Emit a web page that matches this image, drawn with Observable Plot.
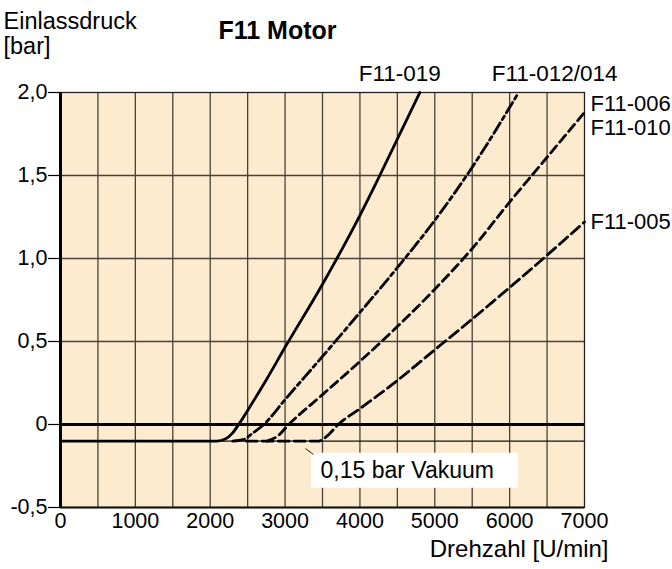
<!DOCTYPE html>
<html><head><meta charset="utf-8">
<script src="https://cdn.jsdelivr.net/npm/d3@7"></script>
<script src="https://cdn.jsdelivr.net/npm/@observablehq/plot@0.6"></script>
<style>body{margin:0;background:#fff} svg{display:block}</style>
</head><body><div id="chart"></div>
<script>
// ---- data ----
const xTicks = [0,1000,2000,3000,4000,5000,6000,7000];
const xGrid = [500,1000,1500,2000,2500,3000,3500,4000,4500,5000,5500,6000,6500];
const yTicks = [-0.5,0,0.5,1,1.5,2];
const yTickLabels = ["-0,5","0","0,5","1,0","1,5","2,0"];
const yGrid = [0.5,1,1.5];
const vacuumLevel = [-0.1];

const rpm019 = [0,2090,2200,2300,2380,2500,2750,3000,3500,4000,4265,4800];
const bar019 = [-0.1,-0.1,-0.088,-0.05,0,0.085,0.27,0.465,0.845,1.26,1.5,2.0];

const rpm012 = [2300,2450,2560,2716,3000,3500,4000,4500,5000,5500,6120];
const bar012 = [-0.1,-0.09,-0.055,0,0.15,0.41,0.675,0.945,1.23,1.55,2.0];

const rpm006 = [2760,2900,3050,3500,4000,4500,5000,5500,6000,6500,7000];
const bar006 = [-0.1,-0.07,0,0.18,0.38,0.59,0.815,1.06,1.34,1.61,1.88];

const rpm005 = [2480,3450,3560,3710,4000,4500,5000,5500,6000,6500,7000];
const bar005 = [-0.1,-0.1,-0.07,0,0.095,0.265,0.45,0.635,0.825,1.02,1.22];

const seriesNames = ["F11-019","F11-012/014","F11-006\nF11-010","F11-005"];
const titleText = "F11 Motor";
const yLabelText = "Einlassdruck\n[bar]";
const xLabelText = "Drehzahl [U/min]";
const vacuumNote = "0,15 bar Vakuum";

// ---- build ----
const tab = (xs, ys) => xs.map((x, i) => ({x, y: ys[i]}));
const s019 = tab(rpm019, bar019);
const s012 = tab(rpm012, bar012);
const s006 = tab(rpm006, bar006);
const s005 = tab(rpm005, bar005);
const last = s => s[s.length - 1];

const grid = "#4b4038";
const font = "Liberation Sans, Arial, Helvetica, sans-serif";
const lw = 2.8;

const chart = Plot.plot({
  width: 672, height: 569,
  marginLeft: 60, marginRight: 88, marginTop: 92, marginBottom: 62,
  style: {fontFamily: font, fontSize: "21px", background: "#fff", color: "#000"},
  x: {domain: [0, 7000], axis: null},
  y: {domain: [-0.5, 2.0], axis: null},
  marks: [
    Plot.frame({fill: "#fdebd0", stroke: null}),
    Plot.ruleX(xGrid, {stroke: grid, strokeWidth: 1.3}),
    Plot.ruleY(yGrid, {stroke: grid, strokeWidth: 1.3}),
    Plot.ruleY(vacuumLevel, {stroke: "#111", strokeWidth: 1.3}),
    Plot.ruleY([0], {stroke: "#000", strokeWidth: 2.8}),
    Plot.frame({stroke: "#222", strokeWidth: 1.3}),
    Plot.ruleY([-0.5], {stroke: "#111", strokeWidth: 2}),
    Plot.ruleX([0], {stroke: "#000", strokeWidth: 3}),
    Plot.line(s005, {x: "x", y: "y", stroke: "#000", strokeWidth: lw, strokeDasharray: "11,5", curve: "monotone-x"}),
    Plot.line(s006, {x: "x", y: "y", stroke: "#000", strokeWidth: lw, strokeDasharray: "9,5", curve: "monotone-x"}),
    Plot.line(s012, {x: "x", y: "y", stroke: "#000", strokeWidth: lw, strokeDasharray: "12,4,4,4", curve: "monotone-x"}),
    Plot.line(s019, {x: "x", y: "y", stroke: "#000", strokeWidth: lw, curve: "monotone-x"}),
    // annotation box
    Plot.rect([{x1: 3353, x2: 6118, y1: -0.173, y2: -0.384}], {x1: "x1", x2: "x2", y1: "y1", y2: "y2", fill: "#fff"}),
    Plot.link([{x1: 3273, y1: -0.145, x2: 3380, y2: -0.181}], {x1: "x1", y1: "y1", x2: "x2", y2: "y2", stroke: "#000", strokeWidth: 0.9}),
    Plot.text([vacuumNote], {x: 3473, y: -0.278, text: d => d, textAnchor: "start", lineAnchor: "middle", fontSize: 23, fill: "#000"}),
    // series labels
    Plot.text([last(s019)], {x: "x", y: "y", text: () => seriesNames[0], dx: -20, dy: -19, textAnchor: "middle", lineAnchor: "middle", fontSize: 22.5}),
    Plot.text([last(s012)], {x: "x", y: "y", text: () => seriesNames[1], dx: 36, dy: -19, textAnchor: "middle", lineAnchor: "middle", fontSize: 22.5}),
    Plot.text([last(s006)], {x: "x", y: "y", text: () => seriesNames[2], dx: 6, dy: 3, textAnchor: "start", lineAnchor: "middle", lineHeight: 1.08, fontSize: 22}),
    Plot.text([last(s005)], {x: "x", y: "y", text: () => seriesNames[3], dx: 6, dy: 0, textAnchor: "start", lineAnchor: "middle", fontSize: 22}),
    // title + axis labels
    Plot.text([titleText], {frameAnchor: "top-left", dx: 217, dy: -62, textAnchor: "middle", lineAnchor: "middle", fontWeight: "bold", fontSize: 25}),
    Plot.text([yLabelText], {frameAnchor: "top-left", dx: -57, dy: -82, textAnchor: "start", lineAnchor: "top", lineHeight: 1.08, fontSize: 23.5}),
    Plot.text([xLabelText], {frameAnchor: "bottom-right", dx: 24, dy: 49, textAnchor: "end", lineAnchor: "bottom", fontSize: 24}),
    // axes
    Plot.axisY(yTicks, {anchor: "left", tickSize: 12, tickPadding: 1, tickFormat: d => yTickLabels[yTicks.indexOf(d)], fontSize: 21.5, stroke: "#000", strokeWidth: 1.2, label: null}),
    Plot.axisX(xTicks, {anchor: "bottom", tickSize: 0, tickPadding: 5, tickFormat: d => String(d), fontSize: 21.5, label: null})
  ]
});
document.getElementById("chart").appendChild(chart);
</script>
</body></html>
